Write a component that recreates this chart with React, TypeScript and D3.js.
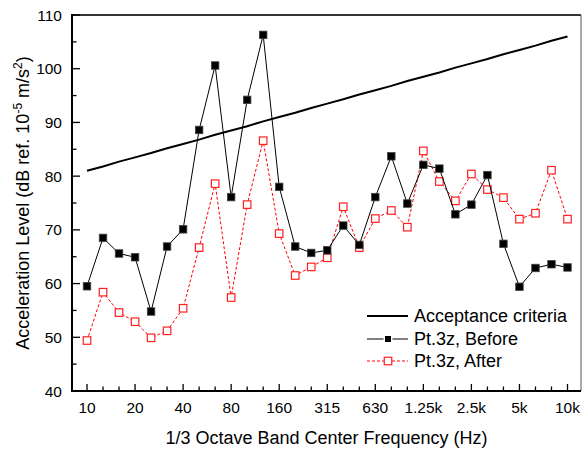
import React from "react";
import * as d3 from "d3";

const bands = ["10","12.5","16","20","25","31.5","40","50","63","80","100","125","160","200","250","315","400","500","630","800","1k","1.25k","1.6k","2k","2.5k","3.15k","4k","5k","6.3k","8k","10k"];
const tickLabels = ["10","20","40","80","160","315","630","1.25k","2.5k","5k","10k"];
const acceptance = [81.0,81.8,82.7,83.5,84.3,85.2,86.0,86.8,87.7,88.5,89.3,90.2,91.0,91.8,92.7,93.5,94.3,95.2,96.0,96.8,97.7,98.5,99.3,100.2,101.0,101.8,102.7,103.5,104.3,105.2,106.0];
const before = [59.5,68.5,65.6,64.9,54.8,66.9,70.1,88.6,100.6,76.1,94.2,106.3,78.0,66.9,65.7,66.2,70.8,67.2,76.1,83.7,74.9,82.1,81.4,72.9,74.7,80.2,67.4,59.4,62.9,63.6,63.0];
const after = [49.4,58.4,54.6,52.9,49.9,51.2,55.4,66.7,78.6,57.4,74.7,86.6,69.3,61.5,63.1,64.8,74.3,66.7,72.1,73.6,70.5,84.7,79.0,75.4,80.4,77.5,76.0,72.0,73.1,81.1,72.0];
const yTicks = [40,50,60,70,80,90,100,110];
const yMinor = [45,55,65,75,85,95,105];

const W = 583, H = 453;
const L = 72, R = 581, T = 15, B = 391;
const font = "Liberation Sans, Arial, sans-serif";

export default function App() {
  const x = d3.scalePoint<string>().domain(bands).range([87, 567.5]);
  const y = d3.scaleLinear().domain([40, 110]).range([B, T]);
  const line = d3.line<number>().x((_, i) => x(bands[i])!).y((d) => y(d));
  const ms = 7.5;
  return (
    <svg width={W} height={H} style={{ position: "absolute", left: 0, top: 0, fontFamily: font }}>
      <rect x={0} y={0} width={W} height={H} fill="#fff" />
      {/* frame */}
      <line x1={L} y1={T} x2={R} y2={T} stroke="#333" strokeWidth={2} />
      <line x1={R} y1={T} x2={R} y2={B} stroke="#555" strokeWidth={1} />
      {/* y ticks */}
      {yTicks.map((t) => (
        <g key={"y" + t}>
          <line x1={L} x2={L + 8} y1={y(t)} y2={y(t)} stroke="#000" strokeWidth={1.3} />
          <text x={62} y={y(t)} dy="0.36em" textAnchor="end" fontSize={15.5} fill="#000">{t}</text>
        </g>
      ))}
      {yMinor.map((t) => (
        <line key={"ym" + t} x1={L} x2={L + 4.5} y1={y(t)} y2={y(t)} stroke="#000" strokeWidth={1.3} />
      ))}
      {/* x ticks */}
      {bands.map((b) => {
        const major = tickLabels.includes(b);
        return (
          <g key={"x" + b}>
            <line x1={x(b)} x2={x(b)} y1={B} y2={B - (major ? 7 : 4.5)} stroke="#000" strokeWidth={1.3} />
            {major && (
              <text x={x(b)} y={413} textAnchor="middle" fontSize={15.5} fill="#000">{b}</text>
            )}
          </g>
        );
      })}
      <line x1={L} y1={T - 1} x2={L} y2={B + 1} stroke="#000" strokeWidth={2} />
      <line x1={L - 1} y1={B} x2={R} y2={B} stroke="#000" strokeWidth={2} />
      {/* series */}
      <path d={line(acceptance)!} fill="none" stroke="#000" strokeWidth={2} />
      <path d={line(after)!} fill="none" stroke="#ff0000" strokeWidth={1} strokeDasharray="3,2" />
      {after.map((v, i) => (
        <rect key={"a" + i} x={x(bands[i])! - ms / 2} y={y(v) - ms / 2} width={ms} height={ms} fill="#fff" stroke="#ff2020" strokeWidth={1.2} />
      ))}
      <path d={line(before)!} fill="none" stroke="#000" strokeWidth={1} />
      {before.map((v, i) => (
        <rect key={"b" + i} x={x(bands[i])! - ms / 2} y={y(v) - ms / 2} width={ms} height={ms} fill="#000" stroke="#444" strokeWidth={0.8} />
      ))}
      {/* legend */}
      <g>
        <line x1={367} x2={408} y1={316} y2={316} stroke="#000" strokeWidth={2} />
        <text x={414} y={316} dy="0.36em" fontSize={18} fill="#000">Acceptance criteria</text>
        <line x1={367} x2={408} y1={339} y2={339} stroke="#000" strokeWidth={1} />
        <rect x={388 - ms / 2} y={339 - ms / 2} width={ms} height={ms} fill="#000" stroke="#fff" strokeWidth={1.5} />
        <text x={414} y={339} dy="0.36em" fontSize={18} fill="#000">Pt.3z, Before</text>
        <line x1={367} x2={408} y1={361} y2={361} stroke="#ff0000" strokeWidth={1} strokeDasharray="3,2" />
        <rect x={388 - ms / 2} y={361 - ms / 2} width={ms} height={ms} fill="#fff" stroke="#ff2020" strokeWidth={1.2} />
        <text x={414} y={361} dy="0.36em" fontSize={18} fill="#000">Pt.3z, After</text>
      </g>
      {/* axis titles */}
      <text x={(L + R) / 2} y={443.5} textAnchor="middle" fontSize={18} fill="#000">1/3 Octave Band Center Frequency (Hz)</text>
      <text transform={`translate(29, ${(T + B) / 2}) rotate(-90)`} textAnchor="middle" fontSize={18} fill="#000">
        Acceleration Level (dB ref. 10<tspan dy={-7} fontSize={12}>-5</tspan><tspan dy={7}> m/s</tspan><tspan dy={-7} fontSize={12}>2</tspan><tspan dy={7}>)</tspan>
      </text>
    </svg>
  );
}
